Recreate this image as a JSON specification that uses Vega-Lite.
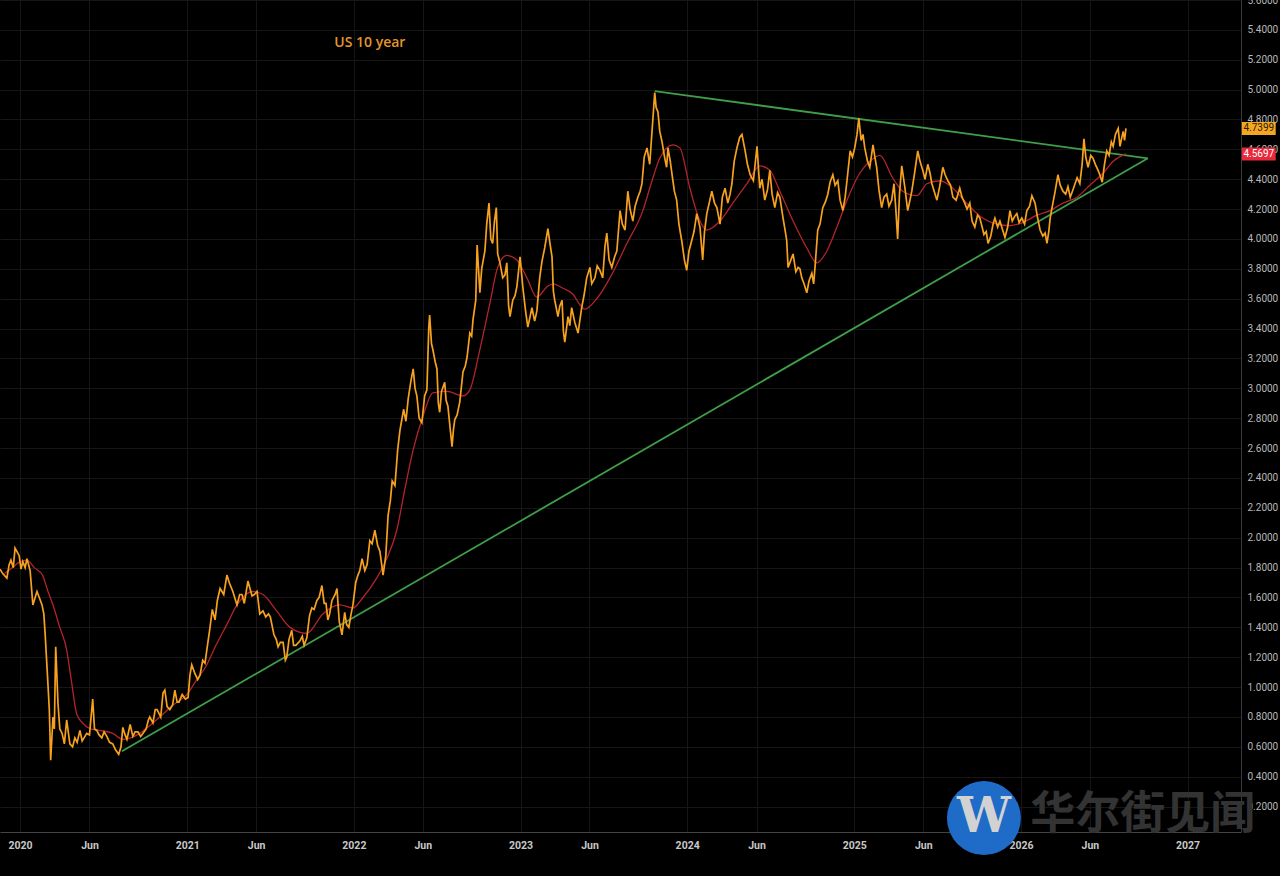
{
  "$schema": "https://vega.github.io/schema/vega-lite/v6.json",
  "width": 1241,
  "height": 832,
  "autosize": {"type": "none"},
  "padding": {"left": 0, "top": 0, "right": 39, "bottom": 44},
  "background": "#000000",
  "config": {"view": {"stroke": null}, "font": "Roboto"},
  "datasets": {
    "yield": [
      {"date": "2019-11-18", "value": 1.79}, {"date": "2019-11-24", "value": 1.76}, {"date": "2019-12-03", "value": 1.73},
      {"date": "2019-12-08", "value": 1.82}, {"date": "2019-12-12", "value": 1.85}, {"date": "2019-12-17", "value": 1.80},
      {"date": "2019-12-21", "value": 1.93}, {"date": "2019-12-30", "value": 1.88}, {"date": "2020-01-03", "value": 1.79},
      {"date": "2020-01-07", "value": 1.84}, {"date": "2020-01-12", "value": 1.80}, {"date": "2020-01-16", "value": 1.86},
      {"date": "2020-01-23", "value": 1.78}, {"date": "2020-01-29", "value": 1.55}, {"date": "2020-02-03", "value": 1.60},
      {"date": "2020-02-07", "value": 1.64}, {"date": "2020-02-12", "value": 1.60}, {"date": "2020-02-18", "value": 1.55},
      {"date": "2020-02-22", "value": 1.49}, {"date": "2020-02-25", "value": 1.35}, {"date": "2020-03-02", "value": 1.02},
      {"date": "2020-03-05", "value": 0.85}, {"date": "2020-03-08", "value": 0.51}, {"date": "2020-03-13", "value": 0.80},
      {"date": "2020-03-16", "value": 0.72}, {"date": "2020-03-19", "value": 1.27}, {"date": "2020-03-24", "value": 0.89},
      {"date": "2020-03-28", "value": 0.72}, {"date": "2020-04-02", "value": 0.69}, {"date": "2020-04-07", "value": 0.62},
      {"date": "2020-04-12", "value": 0.78}, {"date": "2020-04-19", "value": 0.62}, {"date": "2020-04-25", "value": 0.60},
      {"date": "2020-04-30", "value": 0.66}, {"date": "2020-05-05", "value": 0.63}, {"date": "2020-05-11", "value": 0.71},
      {"date": "2020-05-16", "value": 0.64}, {"date": "2020-05-20", "value": 0.66}, {"date": "2020-05-26", "value": 0.69},
      {"date": "2020-06-01", "value": 0.68}, {"date": "2020-06-08", "value": 0.92}, {"date": "2020-06-12", "value": 0.72},
      {"date": "2020-06-17", "value": 0.71}, {"date": "2020-06-22", "value": 0.68}, {"date": "2020-06-28", "value": 0.66},
      {"date": "2020-07-03", "value": 0.70}, {"date": "2020-07-09", "value": 0.67}, {"date": "2020-07-15", "value": 0.63},
      {"date": "2020-07-22", "value": 0.62}, {"date": "2020-07-28", "value": 0.58}, {"date": "2020-08-04", "value": 0.55},
      {"date": "2020-08-09", "value": 0.60}, {"date": "2020-08-13", "value": 0.73}, {"date": "2020-08-18", "value": 0.68},
      {"date": "2020-08-22", "value": 0.65}, {"date": "2020-08-29", "value": 0.75}, {"date": "2020-09-04", "value": 0.67},
      {"date": "2020-09-09", "value": 0.70}, {"date": "2020-09-15", "value": 0.70}, {"date": "2020-09-21", "value": 0.67},
      {"date": "2020-09-26", "value": 0.69}, {"date": "2020-10-03", "value": 0.72}, {"date": "2020-10-08", "value": 0.78},
      {"date": "2020-10-11", "value": 0.80}, {"date": "2020-10-18", "value": 0.76}, {"date": "2020-10-23", "value": 0.85},
      {"date": "2020-10-27", "value": 0.85}, {"date": "2020-11-01", "value": 0.82}, {"date": "2020-11-04", "value": 0.80},
      {"date": "2020-11-09", "value": 0.96}, {"date": "2020-11-13", "value": 0.98}, {"date": "2020-11-18", "value": 0.87},
      {"date": "2020-11-24", "value": 0.85}, {"date": "2020-11-30", "value": 0.88}, {"date": "2020-12-05", "value": 0.98},
      {"date": "2020-12-10", "value": 0.90}, {"date": "2020-12-14", "value": 0.90}, {"date": "2020-12-21", "value": 0.95},
      {"date": "2020-12-28", "value": 0.92}, {"date": "2021-01-03", "value": 0.93}, {"date": "2021-01-07", "value": 1.08},
      {"date": "2021-01-11", "value": 1.15}, {"date": "2021-01-18", "value": 1.09}, {"date": "2021-01-24", "value": 1.05},
      {"date": "2021-01-29", "value": 1.08}, {"date": "2021-02-04", "value": 1.18}, {"date": "2021-02-09", "value": 1.16},
      {"date": "2021-02-13", "value": 1.25}, {"date": "2021-02-20", "value": 1.40}, {"date": "2021-02-25", "value": 1.52},
      {"date": "2021-03-03", "value": 1.45}, {"date": "2021-03-08", "value": 1.58}, {"date": "2021-03-14", "value": 1.66},
      {"date": "2021-03-22", "value": 1.62}, {"date": "2021-03-29", "value": 1.75}, {"date": "2021-04-03", "value": 1.70},
      {"date": "2021-04-11", "value": 1.64}, {"date": "2021-04-20", "value": 1.55}, {"date": "2021-04-26", "value": 1.62},
      {"date": "2021-05-01", "value": 1.62}, {"date": "2021-05-06", "value": 1.56}, {"date": "2021-05-14", "value": 1.71},
      {"date": "2021-05-23", "value": 1.61}, {"date": "2021-05-28", "value": 1.62}, {"date": "2021-06-03", "value": 1.64},
      {"date": "2021-06-09", "value": 1.49}, {"date": "2021-06-16", "value": 1.51}, {"date": "2021-06-22", "value": 1.47},
      {"date": "2021-06-28", "value": 1.49}, {"date": "2021-07-02", "value": 1.47}, {"date": "2021-07-10", "value": 1.35},
      {"date": "2021-07-15", "value": 1.32}, {"date": "2021-07-19", "value": 1.27}, {"date": "2021-07-24", "value": 1.30},
      {"date": "2021-07-30", "value": 1.30}, {"date": "2021-08-04", "value": 1.18}, {"date": "2021-08-07", "value": 1.20},
      {"date": "2021-08-12", "value": 1.32}, {"date": "2021-08-18", "value": 1.38}, {"date": "2021-08-22", "value": 1.28},
      {"date": "2021-08-27", "value": 1.28}, {"date": "2021-09-05", "value": 1.31}, {"date": "2021-09-10", "value": 1.34},
      {"date": "2021-09-14", "value": 1.28}, {"date": "2021-09-20", "value": 1.33}, {"date": "2021-09-26", "value": 1.48},
      {"date": "2021-10-01", "value": 1.53}, {"date": "2021-10-06", "value": 1.52}, {"date": "2021-10-12", "value": 1.58},
      {"date": "2021-10-17", "value": 1.60}, {"date": "2021-10-23", "value": 1.68}, {"date": "2021-10-28", "value": 1.56},
      {"date": "2021-11-01", "value": 1.56}, {"date": "2021-11-05", "value": 1.45}, {"date": "2021-11-09", "value": 1.49},
      {"date": "2021-11-14", "value": 1.58}, {"date": "2021-11-21", "value": 1.62}, {"date": "2021-11-25", "value": 1.66},
      {"date": "2021-11-30", "value": 1.44}, {"date": "2021-12-06", "value": 1.35}, {"date": "2021-12-12", "value": 1.50},
      {"date": "2021-12-16", "value": 1.42}, {"date": "2021-12-21", "value": 1.40}, {"date": "2021-12-26", "value": 1.49},
      {"date": "2021-12-30", "value": 1.55}, {"date": "2022-01-05", "value": 1.70}, {"date": "2022-01-10", "value": 1.75},
      {"date": "2022-01-14", "value": 1.78}, {"date": "2022-01-19", "value": 1.86}, {"date": "2022-01-25", "value": 1.78},
      {"date": "2022-01-30", "value": 1.82}, {"date": "2022-02-05", "value": 1.98}, {"date": "2022-02-10", "value": 1.96},
      {"date": "2022-02-16", "value": 2.05}, {"date": "2022-02-22", "value": 1.95}, {"date": "2022-02-27", "value": 1.91},
      {"date": "2022-03-03", "value": 1.82}, {"date": "2022-03-06", "value": 1.75}, {"date": "2022-03-12", "value": 1.88},
      {"date": "2022-03-17", "value": 2.15}, {"date": "2022-03-22", "value": 2.25}, {"date": "2022-03-26", "value": 2.38},
      {"date": "2022-04-01", "value": 2.35}, {"date": "2022-04-07", "value": 2.59}, {"date": "2022-04-12", "value": 2.72},
      {"date": "2022-04-16", "value": 2.79}, {"date": "2022-04-20", "value": 2.86}, {"date": "2022-04-25", "value": 2.78},
      {"date": "2022-04-30", "value": 2.93}, {"date": "2022-05-06", "value": 3.05}, {"date": "2022-05-11", "value": 3.13},
      {"date": "2022-05-15", "value": 3.00}, {"date": "2022-05-19", "value": 2.95}, {"date": "2022-05-24", "value": 2.80},
      {"date": "2022-05-30", "value": 2.77}, {"date": "2022-06-05", "value": 2.95}, {"date": "2022-06-10", "value": 2.99},
      {"date": "2022-06-14", "value": 3.40}, {"date": "2022-06-16", "value": 3.49}, {"date": "2022-06-20", "value": 3.30},
      {"date": "2022-06-23", "value": 3.26}, {"date": "2022-06-28", "value": 3.18}, {"date": "2022-07-02", "value": 3.13},
      {"date": "2022-07-05", "value": 2.90}, {"date": "2022-07-08", "value": 2.84}, {"date": "2022-07-12", "value": 2.98},
      {"date": "2022-07-19", "value": 3.04}, {"date": "2022-07-22", "value": 2.92}, {"date": "2022-07-26", "value": 2.88},
      {"date": "2022-08-01", "value": 2.70}, {"date": "2022-08-04", "value": 2.61}, {"date": "2022-08-07", "value": 2.72},
      {"date": "2022-08-10", "value": 2.79}, {"date": "2022-08-15", "value": 2.82}, {"date": "2022-08-21", "value": 2.91},
      {"date": "2022-08-28", "value": 3.11}, {"date": "2022-09-02", "value": 3.15}, {"date": "2022-09-06", "value": 3.21},
      {"date": "2022-09-12", "value": 3.37}, {"date": "2022-09-16", "value": 3.35}, {"date": "2022-09-19", "value": 3.46},
      {"date": "2022-09-25", "value": 3.59}, {"date": "2022-09-28", "value": 3.96}, {"date": "2022-10-01", "value": 3.80},
      {"date": "2022-10-04", "value": 3.64}, {"date": "2022-10-08", "value": 3.80}, {"date": "2022-10-15", "value": 3.92},
      {"date": "2022-10-19", "value": 4.10}, {"date": "2022-10-24", "value": 4.24}, {"date": "2022-10-28", "value": 4.00},
      {"date": "2022-11-01", "value": 3.97}, {"date": "2022-11-05", "value": 4.12}, {"date": "2022-11-09", "value": 4.21},
      {"date": "2022-11-12", "value": 3.90}, {"date": "2022-11-17", "value": 3.84}, {"date": "2022-11-23", "value": 3.74},
      {"date": "2022-11-28", "value": 3.76}, {"date": "2022-12-02", "value": 3.84}, {"date": "2022-12-06", "value": 3.55},
      {"date": "2022-12-09", "value": 3.48}, {"date": "2022-12-15", "value": 3.59}, {"date": "2022-12-20", "value": 3.62},
      {"date": "2022-12-24", "value": 3.68}, {"date": "2022-12-31", "value": 3.88}, {"date": "2023-01-06", "value": 3.68},
      {"date": "2023-01-12", "value": 3.52}, {"date": "2023-01-17", "value": 3.41}, {"date": "2023-01-22", "value": 3.48},
      {"date": "2023-01-26", "value": 3.54}, {"date": "2023-02-01", "value": 3.45}, {"date": "2023-02-06", "value": 3.52},
      {"date": "2023-02-12", "value": 3.74}, {"date": "2023-02-17", "value": 3.85}, {"date": "2023-02-23", "value": 3.94},
      {"date": "2023-03-02", "value": 4.07}, {"date": "2023-03-06", "value": 3.98}, {"date": "2023-03-11", "value": 3.88},
      {"date": "2023-03-14", "value": 3.65}, {"date": "2023-03-17", "value": 3.59}, {"date": "2023-03-24", "value": 3.48},
      {"date": "2023-03-28", "value": 3.55}, {"date": "2023-04-02", "value": 3.59}, {"date": "2023-04-05", "value": 3.38},
      {"date": "2023-04-08", "value": 3.31}, {"date": "2023-04-15", "value": 3.48}, {"date": "2023-04-19", "value": 3.42},
      {"date": "2023-04-23", "value": 3.54}, {"date": "2023-04-30", "value": 3.44}, {"date": "2023-05-04", "value": 3.40},
      {"date": "2023-05-07", "value": 3.37}, {"date": "2023-05-15", "value": 3.54}, {"date": "2023-05-20", "value": 3.62},
      {"date": "2023-05-26", "value": 3.74}, {"date": "2023-06-02", "value": 3.81}, {"date": "2023-06-06", "value": 3.70},
      {"date": "2023-06-13", "value": 3.74}, {"date": "2023-06-18", "value": 3.82}, {"date": "2023-06-24", "value": 3.79},
      {"date": "2023-06-30", "value": 3.74}, {"date": "2023-07-05", "value": 3.95}, {"date": "2023-07-09", "value": 4.04},
      {"date": "2023-07-14", "value": 3.86}, {"date": "2023-07-20", "value": 3.81}, {"date": "2023-07-26", "value": 3.88},
      {"date": "2023-07-31", "value": 3.92}, {"date": "2023-08-07", "value": 4.19}, {"date": "2023-08-12", "value": 4.10},
      {"date": "2023-08-18", "value": 4.06}, {"date": "2023-08-24", "value": 4.32}, {"date": "2023-08-29", "value": 4.20},
      {"date": "2023-09-04", "value": 4.12}, {"date": "2023-09-09", "value": 4.22}, {"date": "2023-09-15", "value": 4.28},
      {"date": "2023-09-20", "value": 4.32}, {"date": "2023-09-24", "value": 4.37}, {"date": "2023-09-29", "value": 4.55},
      {"date": "2023-10-05", "value": 4.61}, {"date": "2023-10-11", "value": 4.50}, {"date": "2023-10-16", "value": 4.72},
      {"date": "2023-10-22", "value": 4.98}, {"date": "2023-10-25", "value": 4.88}, {"date": "2023-10-29", "value": 4.85},
      {"date": "2023-11-02", "value": 4.72}, {"date": "2023-11-07", "value": 4.65}, {"date": "2023-11-13", "value": 4.54},
      {"date": "2023-11-17", "value": 4.48}, {"date": "2023-11-20", "value": 4.61}, {"date": "2023-11-25", "value": 4.52},
      {"date": "2023-11-29", "value": 4.43}, {"date": "2023-12-04", "value": 4.32}, {"date": "2023-12-09", "value": 4.26},
      {"date": "2023-12-14", "value": 4.10}, {"date": "2023-12-20", "value": 3.99}, {"date": "2023-12-26", "value": 3.86},
      {"date": "2023-12-31", "value": 3.79}, {"date": "2024-01-05", "value": 3.92}, {"date": "2024-01-11", "value": 3.99},
      {"date": "2024-01-16", "value": 4.05}, {"date": "2024-01-22", "value": 4.17}, {"date": "2024-01-29", "value": 4.08},
      {"date": "2024-02-04", "value": 3.86}, {"date": "2024-02-08", "value": 4.05}, {"date": "2024-02-13", "value": 4.17},
      {"date": "2024-02-19", "value": 4.25}, {"date": "2024-02-24", "value": 4.32}, {"date": "2024-03-01", "value": 4.24},
      {"date": "2024-03-06", "value": 4.21}, {"date": "2024-03-13", "value": 4.10}, {"date": "2024-03-18", "value": 4.28},
      {"date": "2024-03-24", "value": 4.34}, {"date": "2024-03-30", "value": 4.24}, {"date": "2024-04-04", "value": 4.30},
      {"date": "2024-04-08", "value": 4.37}, {"date": "2024-04-13", "value": 4.52}, {"date": "2024-04-19", "value": 4.61},
      {"date": "2024-04-25", "value": 4.68}, {"date": "2024-04-30", "value": 4.70}, {"date": "2024-05-07", "value": 4.59},
      {"date": "2024-05-12", "value": 4.50}, {"date": "2024-05-18", "value": 4.43}, {"date": "2024-05-25", "value": 4.39},
      {"date": "2024-06-02", "value": 4.62}, {"date": "2024-06-08", "value": 4.34}, {"date": "2024-06-13", "value": 4.40},
      {"date": "2024-06-19", "value": 4.26}, {"date": "2024-06-25", "value": 4.33}, {"date": "2024-06-30", "value": 4.46},
      {"date": "2024-07-05", "value": 4.30}, {"date": "2024-07-11", "value": 4.21}, {"date": "2024-07-17", "value": 4.31},
      {"date": "2024-07-22", "value": 4.28}, {"date": "2024-07-29", "value": 4.14}, {"date": "2024-08-03", "value": 4.05},
      {"date": "2024-08-06", "value": 3.99}, {"date": "2024-08-09", "value": 3.81}, {"date": "2024-08-14", "value": 3.85},
      {"date": "2024-08-20", "value": 3.90}, {"date": "2024-08-26", "value": 3.78}, {"date": "2024-08-31", "value": 3.81},
      {"date": "2024-09-04", "value": 3.80}, {"date": "2024-09-08", "value": 3.74}, {"date": "2024-09-13", "value": 3.70},
      {"date": "2024-09-19", "value": 3.64}, {"date": "2024-09-24", "value": 3.72}, {"date": "2024-09-30", "value": 3.77},
      {"date": "2024-10-04", "value": 3.70}, {"date": "2024-10-07", "value": 3.81}, {"date": "2024-10-13", "value": 4.06},
      {"date": "2024-10-18", "value": 4.10}, {"date": "2024-10-24", "value": 4.21}, {"date": "2024-10-30", "value": 4.25},
      {"date": "2024-11-04", "value": 4.30}, {"date": "2024-11-09", "value": 4.38}, {"date": "2024-11-15", "value": 4.43},
      {"date": "2024-11-20", "value": 4.36}, {"date": "2024-11-26", "value": 4.39}, {"date": "2024-12-01", "value": 4.26},
      {"date": "2024-12-07", "value": 4.19}, {"date": "2024-12-12", "value": 4.28}, {"date": "2024-12-16", "value": 4.39},
      {"date": "2024-12-23", "value": 4.59}, {"date": "2024-12-28", "value": 4.55}, {"date": "2025-01-02", "value": 4.61},
      {"date": "2025-01-07", "value": 4.70}, {"date": "2025-01-11", "value": 4.81}, {"date": "2025-01-16", "value": 4.66},
      {"date": "2025-01-20", "value": 4.70}, {"date": "2025-01-24", "value": 4.61}, {"date": "2025-01-30", "value": 4.52},
      {"date": "2025-02-04", "value": 4.48}, {"date": "2025-02-11", "value": 4.63}, {"date": "2025-02-15", "value": 4.55},
      {"date": "2025-02-19", "value": 4.48}, {"date": "2025-02-24", "value": 4.33}, {"date": "2025-03-02", "value": 4.21},
      {"date": "2025-03-07", "value": 4.28}, {"date": "2025-03-13", "value": 4.30}, {"date": "2025-03-18", "value": 4.22},
      {"date": "2025-03-24", "value": 4.26}, {"date": "2025-03-29", "value": 4.37}, {"date": "2025-04-02", "value": 4.20},
      {"date": "2025-04-06", "value": 4.00}, {"date": "2025-04-10", "value": 4.30}, {"date": "2025-04-15", "value": 4.49},
      {"date": "2025-04-22", "value": 4.34}, {"date": "2025-04-28", "value": 4.19}, {"date": "2025-05-03", "value": 4.26},
      {"date": "2025-05-07", "value": 4.32}, {"date": "2025-05-13", "value": 4.44}, {"date": "2025-05-20", "value": 4.59},
      {"date": "2025-05-25", "value": 4.52}, {"date": "2025-05-31", "value": 4.46}, {"date": "2025-06-05", "value": 4.40},
      {"date": "2025-06-11", "value": 4.50}, {"date": "2025-06-16", "value": 4.44}, {"date": "2025-06-20", "value": 4.37},
      {"date": "2025-06-25", "value": 4.32}, {"date": "2025-07-01", "value": 4.26}, {"date": "2025-07-07", "value": 4.35},
      {"date": "2025-07-14", "value": 4.48}, {"date": "2025-07-19", "value": 4.43}, {"date": "2025-07-25", "value": 4.39},
      {"date": "2025-07-31", "value": 4.36}, {"date": "2025-08-05", "value": 4.28}, {"date": "2025-08-12", "value": 4.26},
      {"date": "2025-08-20", "value": 4.34}, {"date": "2025-08-25", "value": 4.28}, {"date": "2025-08-31", "value": 4.24},
      {"date": "2025-09-05", "value": 4.20}, {"date": "2025-09-11", "value": 4.24}, {"date": "2025-09-16", "value": 4.12},
      {"date": "2025-09-22", "value": 4.08}, {"date": "2025-09-28", "value": 4.16}, {"date": "2025-10-03", "value": 4.14},
      {"date": "2025-10-08", "value": 4.08}, {"date": "2025-10-12", "value": 4.03}, {"date": "2025-10-17", "value": 4.05},
      {"date": "2025-10-21", "value": 3.97}, {"date": "2025-10-27", "value": 4.02}, {"date": "2025-11-01", "value": 4.10},
      {"date": "2025-11-05", "value": 4.14}, {"date": "2025-11-11", "value": 4.08}, {"date": "2025-11-16", "value": 4.12},
      {"date": "2025-11-22", "value": 4.06}, {"date": "2025-11-27", "value": 4.01}, {"date": "2025-12-03", "value": 4.08},
      {"date": "2025-12-08", "value": 4.19}, {"date": "2025-12-13", "value": 4.12}, {"date": "2025-12-18", "value": 4.15},
      {"date": "2025-12-23", "value": 4.17}, {"date": "2025-12-28", "value": 4.11}, {"date": "2026-01-03", "value": 4.14},
      {"date": "2026-01-09", "value": 4.10}, {"date": "2026-01-14", "value": 4.19}, {"date": "2026-01-20", "value": 4.22},
      {"date": "2026-01-25", "value": 4.29}, {"date": "2026-02-01", "value": 4.24}, {"date": "2026-02-06", "value": 4.15},
      {"date": "2026-02-12", "value": 4.06}, {"date": "2026-02-18", "value": 4.02}, {"date": "2026-02-23", "value": 4.04},
      {"date": "2026-02-27", "value": 3.97}, {"date": "2026-03-03", "value": 4.05}, {"date": "2026-03-06", "value": 4.14},
      {"date": "2026-03-12", "value": 4.24}, {"date": "2026-03-17", "value": 4.32}, {"date": "2026-03-23", "value": 4.43},
      {"date": "2026-03-28", "value": 4.36}, {"date": "2026-04-03", "value": 4.32}, {"date": "2026-04-09", "value": 4.30},
      {"date": "2026-04-14", "value": 4.35}, {"date": "2026-04-19", "value": 4.28}, {"date": "2026-04-25", "value": 4.33},
      {"date": "2026-05-04", "value": 4.41}, {"date": "2026-05-10", "value": 4.37}, {"date": "2026-05-15", "value": 4.50},
      {"date": "2026-05-19", "value": 4.67}, {"date": "2026-05-23", "value": 4.55}, {"date": "2026-05-28", "value": 4.48},
      {"date": "2026-06-03", "value": 4.56}, {"date": "2026-06-08", "value": 4.54}, {"date": "2026-06-13", "value": 4.50},
      {"date": "2026-06-19", "value": 4.46}, {"date": "2026-06-24", "value": 4.42}, {"date": "2026-06-28", "value": 4.38},
      {"date": "2026-07-03", "value": 4.50}, {"date": "2026-07-08", "value": 4.59}, {"date": "2026-07-13", "value": 4.56},
      {"date": "2026-07-18", "value": 4.65}, {"date": "2026-07-22", "value": 4.62}, {"date": "2026-07-27", "value": 4.70},
      {"date": "2026-08-02", "value": 4.74}, {"date": "2026-08-06", "value": 4.62}, {"date": "2026-08-10", "value": 4.68},
      {"date": "2026-08-13", "value": 4.72}, {"date": "2026-08-16", "value": 4.66}, {"date": "2026-08-19", "value": 4.74}
    ],
    "ma": [
      {"date": "2019-11-28", "value": 1.76}, {"date": "2019-12-15", "value": 1.80}, {"date": "2020-01-01", "value": 1.84},
      {"date": "2020-01-16", "value": 1.85}, {"date": "2020-02-01", "value": 1.80}, {"date": "2020-02-19", "value": 1.75},
      {"date": "2020-03-01", "value": 1.65}, {"date": "2020-03-13", "value": 1.55}, {"date": "2020-03-28", "value": 1.40},
      {"date": "2020-04-12", "value": 1.25}, {"date": "2020-04-22", "value": 1.05}, {"date": "2020-05-04", "value": 0.82},
      {"date": "2020-05-17", "value": 0.76}, {"date": "2020-06-03", "value": 0.72}, {"date": "2020-06-23", "value": 0.71},
      {"date": "2020-07-22", "value": 0.69}, {"date": "2020-08-13", "value": 0.65}, {"date": "2020-09-19", "value": 0.69},
      {"date": "2020-10-10", "value": 0.74}, {"date": "2020-11-02", "value": 0.80}, {"date": "2020-12-01", "value": 0.88},
      {"date": "2020-12-31", "value": 0.95}, {"date": "2021-01-20", "value": 1.04}, {"date": "2021-02-13", "value": 1.15},
      {"date": "2021-03-05", "value": 1.28}, {"date": "2021-03-29", "value": 1.42}, {"date": "2021-04-20", "value": 1.55},
      {"date": "2021-05-25", "value": 1.64}, {"date": "2021-06-16", "value": 1.62}, {"date": "2021-07-16", "value": 1.51},
      {"date": "2021-08-14", "value": 1.40}, {"date": "2021-09-20", "value": 1.36}, {"date": "2021-10-25", "value": 1.49},
      {"date": "2021-12-01", "value": 1.55}, {"date": "2021-12-30", "value": 1.53}, {"date": "2022-01-21", "value": 1.60},
      {"date": "2022-02-20", "value": 1.73}, {"date": "2022-03-14", "value": 1.86}, {"date": "2022-04-05", "value": 2.05},
      {"date": "2022-04-23", "value": 2.33}, {"date": "2022-05-11", "value": 2.59}, {"date": "2022-06-01", "value": 2.81},
      {"date": "2022-06-23", "value": 2.97}, {"date": "2022-07-24", "value": 2.98}, {"date": "2022-08-28", "value": 2.95},
      {"date": "2022-09-12", "value": 2.99}, {"date": "2022-10-04", "value": 3.26}, {"date": "2022-10-26", "value": 3.57},
      {"date": "2022-11-12", "value": 3.81}, {"date": "2022-12-02", "value": 3.89}, {"date": "2022-12-24", "value": 3.86},
      {"date": "2023-01-15", "value": 3.74}, {"date": "2023-02-06", "value": 3.61}, {"date": "2023-02-28", "value": 3.68},
      {"date": "2023-03-13", "value": 3.70}, {"date": "2023-04-04", "value": 3.67}, {"date": "2023-04-26", "value": 3.63},
      {"date": "2023-05-11", "value": 3.56}, {"date": "2023-05-22", "value": 3.53}, {"date": "2023-06-17", "value": 3.60},
      {"date": "2023-07-16", "value": 3.74}, {"date": "2023-08-22", "value": 3.97}, {"date": "2023-09-26", "value": 4.19},
      {"date": "2023-10-15", "value": 4.38}, {"date": "2023-11-02", "value": 4.54}, {"date": "2023-12-01", "value": 4.63},
      {"date": "2023-12-16", "value": 4.61}, {"date": "2024-01-07", "value": 4.34}, {"date": "2024-01-29", "value": 4.12},
      {"date": "2024-02-13", "value": 4.06}, {"date": "2024-03-13", "value": 4.12}, {"date": "2024-04-10", "value": 4.24},
      {"date": "2024-05-11", "value": 4.37}, {"date": "2024-06-08", "value": 4.49}, {"date": "2024-06-30", "value": 4.46},
      {"date": "2024-07-22", "value": 4.32}, {"date": "2024-08-20", "value": 4.12}, {"date": "2024-09-19", "value": 3.94},
      {"date": "2024-10-11", "value": 3.84}, {"date": "2024-11-02", "value": 3.92}, {"date": "2024-11-24", "value": 4.08},
      {"date": "2024-12-16", "value": 4.26}, {"date": "2025-01-13", "value": 4.44}, {"date": "2025-02-04", "value": 4.52},
      {"date": "2025-02-26", "value": 4.56}, {"date": "2025-03-26", "value": 4.41}, {"date": "2025-04-17", "value": 4.32},
      {"date": "2025-05-18", "value": 4.29}, {"date": "2025-06-09", "value": 4.37}, {"date": "2025-07-08", "value": 4.39},
      {"date": "2025-08-05", "value": 4.34}, {"date": "2025-09-04", "value": 4.24}, {"date": "2025-10-09", "value": 4.14},
      {"date": "2025-11-09", "value": 4.10}, {"date": "2025-12-08", "value": 4.09}, {"date": "2026-01-05", "value": 4.11},
      {"date": "2026-02-05", "value": 4.16}, {"date": "2026-03-06", "value": 4.19}, {"date": "2026-04-03", "value": 4.24},
      {"date": "2026-05-04", "value": 4.28}, {"date": "2026-06-01", "value": 4.36}, {"date": "2026-06-30", "value": 4.44},
      {"date": "2026-07-22", "value": 4.52}, {"date": "2026-08-19", "value": 4.57}
    ],
    "trend": [
      {"line": "support", "date": "2020-08-11", "value": 0.57},
      {"line": "support", "date": "2026-10-06", "value": 4.54},
      {"line": "resistance", "date": "2023-10-22", "value": 4.99},
      {"line": "resistance", "date": "2026-10-06", "value": 4.54}
    ],
    "tags": [
      {"series": "US10Y", "value": 4.7399},
      {"series": "MA", "value": 4.5697}
    ]
  },
  "encoding": {
    "x": {
      "type": "temporal",
      "title": null,
      "scale": {
        "type": "utc",
        "padding": 0,
        "domain": [
          {"year": 2019, "month": 11, "date": 18, "utc": true},
          {"year": 2027, "month": 4, "date": 28, "utc": true}
        ]
      },
      "axis": {
        "values": [
          {"year": 2020, "month": 1, "date": 1, "utc": true}, {"year": 2020, "month": 6, "date": 1, "utc": true},
          {"year": 2021, "month": 1, "date": 1, "utc": true}, {"year": 2021, "month": 6, "date": 1, "utc": true},
          {"year": 2022, "month": 1, "date": 1, "utc": true}, {"year": 2022, "month": 6, "date": 1, "utc": true},
          {"year": 2023, "month": 1, "date": 1, "utc": true}, {"year": 2023, "month": 6, "date": 1, "utc": true},
          {"year": 2024, "month": 1, "date": 1, "utc": true}, {"year": 2024, "month": 6, "date": 1, "utc": true},
          {"year": 2025, "month": 1, "date": 1, "utc": true}, {"year": 2025, "month": 6, "date": 1, "utc": true},
          {"year": 2026, "month": 1, "date": 1, "utc": true}, {"year": 2026, "month": 6, "date": 1, "utc": true},
          {"year": 2027, "month": 1, "date": 1, "utc": true}
        ],
        "labelExpr": "utcmonth(datum.value) === 0 ? utcFormat(datum.value, '%Y') : 'Jun'",
        "ticks": false,
        "domainColor": "#444444",
        "gridColor": "#161616",
        "labelColor": "#c8c8c8",
        "labelFontSize": 10.5,
        "labelFontWeight": "bold",
        "labelPadding": 8,
        "labelFlush": false,
        "labelOverlap": false
      }
    },
    "y": {
      "type": "quantitative",
      "title": null,
      "scale": {"domain": [0.03, 5.6], "nice": false, "zero": false, "padding": 0},
      "axis": {
        "orient": "right",
        "values": [0.2, 0.4, 0.6, 0.8, 1.0, 1.2, 1.4, 1.6, 1.8, 2.0, 2.2, 2.4, 2.6, 2.8, 3.0, 3.2, 3.4, 3.6, 3.8, 4.0, 4.2, 4.4, 4.6, 4.8, 5.0, 5.2, 5.4, 5.6],
        "format": ".4f",
        "ticks": false,
        "domainColor": "#3a3a3a",
        "gridColor": "#161616",
        "labelColor": "#b8b8b8",
        "labelFontSize": 10,
        "labelPadding": 6,
        "labelFlush": false,
        "labelOverlap": false
      }
    }
  },
  "layer": [
    {
      "data": {"name": "trend"},
      "mark": {"type": "line", "color": "#3f9f49", "strokeWidth": 1.8},
      "encoding": {"x": {"field": "date"}, "y": {"field": "value"}, "detail": {"field": "line"}}
    },
    {
      "data": {"name": "ma"},
      "mark": {"type": "line", "color": "#b3242c", "strokeWidth": 1.3, "interpolate": "monotone"},
      "encoding": {"x": {"field": "date"}, "y": {"field": "value"}}
    },
    {
      "data": {"name": "yield"},
      "mark": {"type": "line", "color": "#f7a21e", "strokeWidth": 1.7},
      "encoding": {"x": {"field": "date"}, "y": {"field": "value"}}
    },
    {
      "data": {"values": [{}]},
      "mark": {"type": "text", "text": "US 10 year", "font": "Open Sans", "fontSize": 14, "fontWeight": 600, "color": "#e3962a", "align": "center", "baseline": "middle"},
      "encoding": {
        "x": {"datum": {"year": 2022, "month": 2, "date": 5, "utc": true}},
        "y": {"datum": 5.31}
      }
    },
    {
      "data": {"values": [{}]},
      "mark": {"type": "point", "shape": "circle", "filled": true, "opacity": 1, "size": 5476, "color": "#1e6bc8"},
      "encoding": {
        "x": {"datum": {"year": 2025, "month": 10, "date": 12, "utc": true}},
        "y": {"datum": 0.123}
      }
    },
    {
      "data": {"values": [{}]},
      "mark": {"type": "text", "text": "W", "font": "DejaVu Serif", "fontSize": 48, "fontWeight": "bold", "color": "#d2d2d2", "align": "center", "baseline": "middle"},
      "encoding": {
        "x": {"datum": {"year": 2025, "month": 10, "date": 12, "utc": true}},
        "y": {"datum": 0.123}
      }
    },
    {
      "data": {"values": [{}]},
      "mark": {"type": "text", "text": "华尔街见闻", "font": "Noto Sans CJK SC", "fontSize": 45, "fontWeight": "bold", "color": "#333333", "align": "center", "baseline": "middle"},
      "encoding": {
        "x": {"datum": {"year": 2026, "month": 9, "date": 25, "utc": true}},
        "y": {"datum": 0.145}
      }
    },
    {
      "data": {"name": "tags"},
      "mark": {"type": "bar", "orient": "horizontal", "size": 13},
      "encoding": {
        "x": {"datum": {"year": 2027, "month": 4, "date": 30, "utc": true}},
        "x2": {"datum": {"year": 2027, "month": 7, "date": 13, "utc": true}},
        "y": {"field": "value"},
        "fill": {"condition": {"test": "datum.series === 'US10Y'", "value": "#f5a623"}, "value": "#e8283c"}
      }
    },
    {
      "data": {"name": "tags"},
      "mark": {"type": "text", "fontSize": 10, "align": "center", "baseline": "middle"},
      "encoding": {
        "x": {"datum": {"year": 2027, "month": 6, "date": 6, "utc": true}},
        "y": {"field": "value"},
        "text": {"field": "value", "format": ".4f"},
        "color": {"condition": {"test": "datum.series === 'US10Y'", "value": "#2a1c00"}, "value": "#ffffff"}
      }
    }
  ]
}
